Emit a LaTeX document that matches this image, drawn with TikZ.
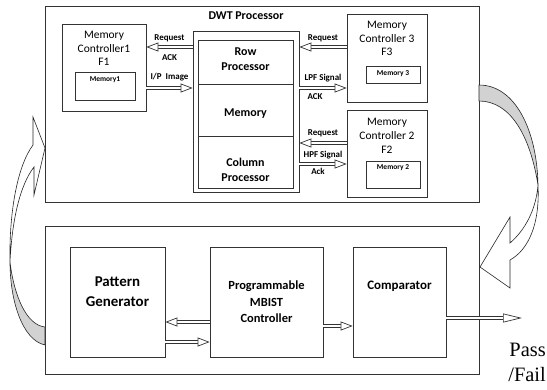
\documentclass[tikz,border=0pt]{standalone}
\usepackage{fontspec}
\setmainfont{Carlito}
\newfontfamily\timesfont{Liberation Serif}
\usetikzlibrary{arrows.meta}

\begin{document}
\begin{tikzpicture}[x=1bp, y=-1bp,
  box/.style={draw=black!80, line width=0.8bp, inner sep=0pt},
  lbl/.style={font=\fontsize{9}{9}\selectfont\bfseries, inner sep=1pt},
  tinylbl/.style={font=\fontsize{7.5}{8}\selectfont\bfseries, inner sep=0pt},
  ctrl/.style={font=\fontsize{11.5}{13.8}\selectfont, align=center, inner sep=0pt},
  unit/.style={font=\fontsize{12}{15}\selectfont\bfseries, align=center, inner sep=0pt},
  hollow/.style={draw=black!80, line width=0.7bp, double=white, double distance=2.6bp,
    -{Triangle[fill=white, length=#1, width=9bp, line width=0.7bp]}},
  hollow/.default=12bp,
  curv/.style={draw=black!85, line width=0.6bp}]

\useasboundingbox (0,0) rectangle (547,389);

% DWT processor
\node[box, minimum width=434bp, minimum height=196bp] (dwt) at (262,104) {};
\node[unit] (dwtname) at (246,16) {DWT Processor};

\node[box, minimum width=84bp, minimum height=87bp] (mc1) at (104,67.5) {};
\node[ctrl] (mc1txt) at (104,48.5) {Memory\\Controller1\\F1};
\node[box, minimum width=60bp, minimum height=28bp] (mem1) at (105,86) {};
\node[tinylbl] (mem1txt) at (105,80) {Memory1};

\node[box, minimum width=106bp, minimum height=161bp] (proc) at (246,111.5) {};
\node[box, minimum width=95bp, minimum height=44bp] (row) at (245.5,62) {};
\node[box, minimum width=95bp, minimum height=52bp] (pmem) at (245.5,110) {};
\node[box, minimum width=95bp, minimum height=52bp] (col) at (245.5,162) {};
\node[unit] (rowtxt) at (245.5,59.5) {Row\\Processor};
\node[unit] (pmemtxt) at (245.5,114) {Memory};
\node[unit] (coltxt) at (245.5,169.5) {Column\\Processor};

\node[box, minimum width=80bp, minimum height=88bp] (mc3) at (387,58) {};
\node[ctrl] (mc3txt) at (387,38.5) {Memory\\Controller 3\\F3};
\node[box, minimum width=54bp, minimum height=17bp] (mem3) at (393,74.5) {};
\node[tinylbl] (mem3txt) at (393,73.5) {Memory 3};

\node[box, minimum width=80bp, minimum height=87bp] (mc2) at (387,153.5) {};
\node[ctrl] (mc2txt) at (387,136) {Memory\\Controller 2\\F2};
\node[box, minimum width=54bp, minimum height=27bp] (mem2) at (393,174.5) {};
\node[tinylbl] (mem2txt) at (393,168) {Memory 2};

\draw[hollow] (proc.west |- 0,47) -- node[lbl, above=4bp] (req1) {Request}
  node[lbl, below=6bp] (ack1) {ACK} (mc1.east |- 0,47);
\draw[hollow] (mc1.east |- 0,88) -- node[lbl, above=6bp] (ipimg) {I/P\ \ Image} (proc.west |- 0,88);
\draw[hollow] (mc3.west |- 0,47) -- node[lbl, above=4bp] (req3) {Request} (proc.east |- 0,47);
\draw[hollow] (proc.east |- 0,88) -- node[lbl, above=5bp] (lpf) {LPF Signal}
  node[lbl, below=4bp, xshift=-8bp] (ack3) {ACK} (mc3.west |- 0,88);
\draw[hollow] (mc2.west |- 0,143) -- node[lbl, above=5bp] (req2) {Request} (proc.east |- 0,143);
\draw[hollow] (proc.east |- 0,164) -- node[lbl, above=4bp] (hpf) {HPF Signal}
  node[lbl, below=3bp, xshift=-5bp] (ack2) {Ack} (mc2.west |- 0,164);

% MBIST part
\node[box, minimum width=434bp, minimum height=148bp] (bist) at (262,300) {};
\node[box, minimum width=95bp, minimum height=110bp] (pg) at (117.5,302) {};
\node[font=\fontsize{15}{20}\selectfont\bfseries, align=center] (pgtxt) at (117.5,292) {Pattern\\Generator};
\node[box, minimum width=113bp, minimum height=110bp, align=center,
  font=\fontsize{12.5}{16.5}\selectfont\bfseries] (mbist) at (266.5,302) {Programmable\\MBIST\\Controller};
\node[box, minimum width=93bp, minimum height=110bp] (comp) at (399.5,302) {};
\node[font=\fontsize{13}{15}\selectfont\bfseries] (comptxt) at (399.5,286) {Comparator};
\coordinate (pfend) at (522,318);

\draw[hollow] (mbist.west |- 0,322) -- (pg.east |- 0,322);
\draw[hollow] (pg.east |- 0,342) -- (mbist.west |- 0,342);
\draw[hollow] (mbist.east |- 0,326) -- (comp.west |- 0,326);
\draw[hollow=19bp] (comp.east |- 0,318) -- (pfend);
\node[font=\timesfont\fontsize{20.5}{25}\selectfont, align=right, anchor=east, inner sep=0pt] (pf) at (546,362) {Pass\\/Fail};

% curved arrows between the two blocks
\draw[curv, fill=gray!35] (479,85) .. controls (515,85) and (537,130) .. (538,185)
  .. controls (530,135) and (510,101) .. (479,101) -- cycle;
\draw[curv, fill=white] (538,185) .. controls (540,225) and (528,250) .. (510,260)
  -- (510,288) -- (480,267) -- (510,217) -- (510,243)
  .. controls (525,230) and (536,210) .. (538,185) -- cycle;
\draw[curv, fill=gray!35] (45,345) .. controls (22,340) and (10,300) .. (10,262)
  .. controls (14,295) and (26,325) .. (45,327) -- cycle;
\draw[curv, fill=white] (10,262) .. controls (9,210) and (18,165) .. (33,145)
  -- (33,117) -- (45,148) -- (34,195) -- (34,167)
  .. controls (20,185) and (12,220) .. (10,262) -- cycle;
\end{tikzpicture}
\end{document}
